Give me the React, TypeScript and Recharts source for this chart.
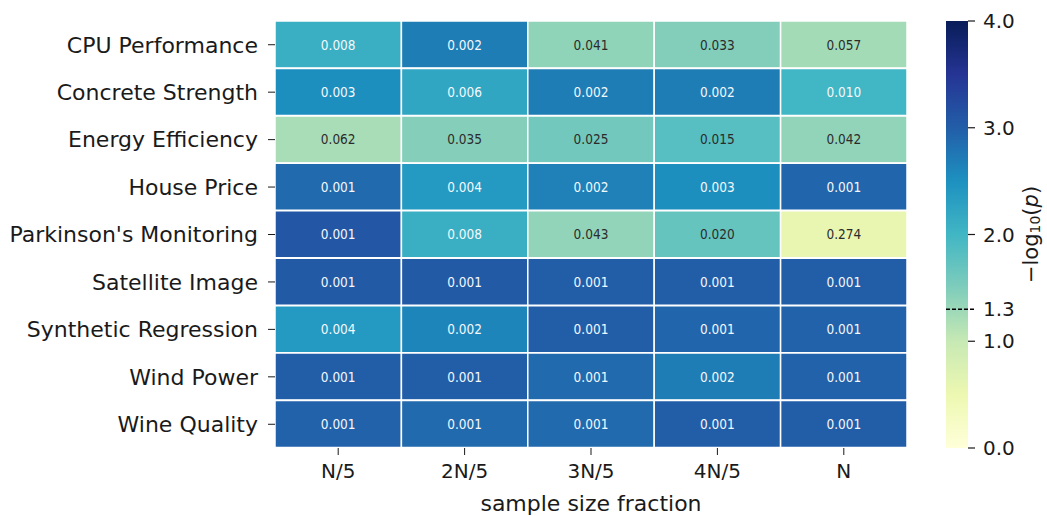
import { BarChart, Bar, XAxis, YAxis, Cell, LabelList } from 'recharts'

const DATASETS = [
  'CPU Performance', 'Concrete Strength', 'Energy Efficiency', 'House Price',
  "Parkinson's Monitoring", 'Satellite Image', 'Synthetic Regression', 'Wind Power', 'Wine Quality',
]
const FRACTIONS = ['N/5', '2N/5', '3N/5', '4N/5', 'N']

// p-values per sample size fraction (one entry per dataset, same order as DATASETS)
const P_N5  = [0.008, 0.003, 0.062, 0.0013, 0.0008, 0.0009, 0.004, 0.001, 0.0011]
const P_2N5 = [0.002, 0.006, 0.035, 0.004, 0.008, 0.0009, 0.0024, 0.001, 0.0013]
const P_3N5 = [0.041, 0.002, 0.025, 0.0022, 0.043, 0.001, 0.001, 0.0013, 0.0013]
const P_4N5 = [0.033, 0.002, 0.015, 0.003, 0.020, 0.001, 0.0012, 0.002, 0.001]
const P_N   = [0.057, 0.010, 0.042, 0.0012, 0.274, 0.001, 0.0011, 0.0011, 0.001]
const P_COLS = [P_N5, P_2N5, P_3N5, P_4N5, P_N]

const CBAR_TICKS = [0, 1, 1.3, 2, 3, 4]
const VMAX = 4

const YLGNBU = ['#ffffd9', '#edf8b1', '#c7e9b4', '#7fcdbb', '#41b6c4', '#1d91c0', '#225ea8', '#253494', '#081d58']
const FONT = '"DejaVu Sans", sans-serif'
const INK = '#1a1a1a'

function hexToRgb(h: string) {
  return [1, 3, 5].map(i => parseInt(h.slice(i, i + 2), 16))
}

function cmap(t: number) {
  const tt = Math.max(0, Math.min(1, t)) * (YLGNBU.length - 1)
  const i = Math.min(Math.floor(tt), YLGNBU.length - 2)
  const f = tt - i
  const a = hexToRgb(YLGNBU[i]), b = hexToRgb(YLGNBU[i + 1])
  return a.map((v, k) => Math.round(v + (b[k] - v) * f))
}

function cellColor(p: number) {
  const [r, g, b] = cmap(-Math.log10(p) / VMAX)
  return `rgb(${r},${g},${b})`
}

// seaborn-style annotation colour: dark text on light cells, white on dark
function textColor(p: number) {
  const lin = cmap(-Math.log10(p) / VMAX).map(v => {
    const c = v / 255
    return c <= 0.03928 ? c / 12.92 : Math.pow((c + 0.055) / 1.055, 2.4)
  })
  const lum = 0.2126 * lin[0] + 0.7152 * lin[1] + 0.0722 * lin[2]
  return lum > 0.408 ? '#2b2b2b' : '#f4f8fc'
}

const rows = DATASETS.map((name, r) => {
  const row: Record<string, string | number> = { name }
  P_COLS.forEach((col, c) => { row[`c${c}`] = 1; row[`p${c}`] = col[r] })
  return row
})

function CellLabel(props: any) {
  const { x, y, width, height, value } = props
  return (
    <text
      x={x + width / 2} y={y + height / 2}
      textAnchor="middle" dominantBaseline="central"
      fontSize={13.5} fontFamily='"DejaVu Sans Condensed", "DejaVu Sans", sans-serif'
      fill={textColor(value)}
    >
      {Number(value).toFixed(3)}
    </text>
  )
}

function CbarTick(props: any) {
  const { x, y, payload } = props
  const v = payload.value
  const dashed = v === 1.3
  return (
    <g>
      <line
        x1={dashed ? x - 37 : x - 15} x2={x - 8} y1={y} y2={y}
        stroke={dashed ? '#000' : INK} strokeWidth={dashed ? 1.5 : 1.2}
        strokeDasharray={dashed ? '4 2' : undefined}
      />
      <text x={x} y={y} dominantBaseline="central" fontSize={20} fontFamily={FONT} fill={INK}>
        {v.toFixed(1)}
      </text>
    </g>
  )
}

export default function App() {
  return (
    <div style={{ position: 'absolute', left: 0, top: 0, width: 1047, height: 516, background: '#fff' }}>

      {/* heatmap */}
      <div style={{ position: 'absolute', left: 0, top: 0 }}>
        <BarChart
          width={910} height={516} data={rows} layout="vertical"
          margin={{ top: 21, right: 3, bottom: 0, left: 0 }}
          barCategoryGap={0}
        >
          <XAxis
            type="number" domain={[0, 5]} ticks={[0.5, 1.5, 2.5, 3.5, 4.5]} interval={0}
            tickFormatter={v => FRACTIONS[Math.floor(v)]}
            height={68} axisLine={false} tickSize={7} tickMargin={9}
            tickLine={{ stroke: INK }}
            tick={{ fontSize: 20, fontFamily: FONT, fill: INK }}
            label={({ viewBox }: any) => (
              <text
                x={viewBox.x + viewBox.width / 2} y={viewBox.y + 55}
                textAnchor="middle" dominantBaseline="central"
                fontSize={22} fontFamily={FONT} fill={INK}
              >
                sample size fraction
              </text>
            )}
          />
          <YAxis
            type="category" dataKey="name" width={275}
            axisLine={false} tickSize={7} tickMargin={10}
            tickLine={{ stroke: INK }}
            tick={{ fontSize: 22, fontFamily: FONT, fill: INK }}
          />
          {FRACTIONS.map((f, c) => (
            <Bar key={f} dataKey={`c${c}`} stackId="s" stroke="#fff" strokeWidth={1.5} isAnimationActive={false}>
              {rows.map((row, r) => <Cell key={r} fill={cellColor(row[`p${c}`] as number)} />)}
              <LabelList dataKey={`p${c}`} content={CellLabel} />
            </Bar>
          ))}
        </BarChart>
      </div>

      {/* colour bar */}
      <div style={{ position: 'absolute', left: 900, top: 0 }}>
        <BarChart
          width={147} height={516} data={[{ k: 'cbar', v: VMAX }]}
          margin={{ top: 21, right: 0, bottom: 68, left: 46 }}
          barCategoryGap={0}
        >
          <defs>
            <linearGradient id="cbar" x1="0" y1="1" x2="0" y2="0">
              {YLGNBU.map((c, i) => (
                <stop key={c} offset={`${(i / (YLGNBU.length - 1)) * 100}%`} stopColor={c} />
              ))}
            </linearGradient>
          </defs>
          <XAxis type="category" dataKey="k" hide />
          <YAxis
            orientation="right" domain={[0, VMAX]} ticks={CBAR_TICKS} interval={0}
            width={79} axisLine={false} tickLine={false} tickSize={7} tickMargin={8}
            tick={<CbarTick />}
            label={({ viewBox }: any) => {
              const cx = viewBox.x + 63
              const cy = viewBox.y + viewBox.height / 2
              return (
                <text
                  x={cx} y={cy} transform={`rotate(-90 ${cx} ${cy})`}
                  textAnchor="middle" dominantBaseline="central"
                  fontSize={21} fontFamily={FONT} fill={INK}
                >
                  −log<tspan fontSize={14} dy="4">10</tspan><tspan dy="-4">(</tspan><tspan fontStyle="italic">p</tspan>)
                </text>
              )
            }}
          />
          <Bar dataKey="v" fill="url(#cbar)" isAnimationActive={false} />
        </BarChart>
      </div>
    </div>
  )
}
